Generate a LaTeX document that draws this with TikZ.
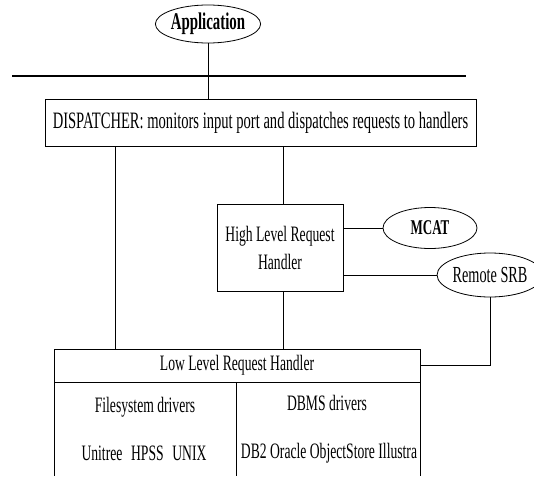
\documentclass[tikz,border=0pt]{standalone}
\usepackage{fontspec}
\setmainfont[FakeStretch=0.62]{Liberation Serif}
\usetikzlibrary{shapes.geometric}

\begin{document}
\begin{tikzpicture}[
        x=1pt, y=-1pt,
        every node/.style={inner sep=0pt, outer sep=0pt, font=\fontsize{22}{28}\selectfont},
        box/.style={draw, rectangle, line width=0.8pt, align=center},
        oval/.style={draw, ellipse, line width=0.8pt},
        wire/.style={line width=0.8pt},
        bus/.style={line width=1.6pt},
    ]
    \useasboundingbox[fill=white] (0,0) rectangle (534,476);

    \node[oval, minimum width=92pt, minimum height=38pt, font=\fontsize{24}{26}\selectfont\bfseries](app) at (208,24){Application};
    \coordinate (busL) at (12,76);
    \coordinate (busR) at (466,76);

    \node[box, minimum width=431pt, minimum height=47pt, font=\fontsize{23.5}{26}\selectfont](disp) at (260.5,122.5){DISPATCHER: monitors input port and dispatches requests to handlers};
    \node[box, minimum width=126pt, minimum height=87pt](high) at (280,247.5){High Level Request\\Handler};
    \node[oval, minimum width=94pt, minimum height=41pt, font=\fontsize{21}{23}\selectfont\bfseries](mcat) at (430,228){MCAT};
    \node[oval, minimum width=90pt, minimum height=44pt, font=\fontsize{23}{25}\selectfont](srb) at (490,275){Remote SRB};
    \node[box, minimum width=366pt, minimum height=33pt](low) at (237,365.5){Low Level Request Handler};

    \node[](fs) at (145,407){Filesystem drivers};
    \node[](fslist) at (144,453){Unitree\hspace{8.7pt}HPSS\hspace{8.7pt}UNIX};
    \node[](dbms) at (327,403){DBMS drivers};
    \node[](dblist) at (329,453){DB2 Oracle ObjectStore Illustra};

    \coordinate (tapL) at (115,146);
    \coordinate (tapH) at (283,146);
    \coordinate (split) at (236,382);
    \coordinate (bot) at (0,476);

    \draw[bus] (busL) -- (busR);
    \draw[wire] (app.south) -- (app.south |- disp.north);
    \draw[wire] (tapL) -- (tapL |- low.north);
    \draw[wire] (tapH) -- (tapH |- high.north);
    \draw[wire] (high.south -| tapH) -- (tapH |- low.north);
    \draw[wire] (high.east |- mcat.west) -- (mcat.west);
    \draw[wire] (high.east |- srb.west) -- (srb.west);
    \draw[wire] (srb.south) -- (srb.south |- low.east) -- (low.east);

    % open bottom of the driver box
    \draw[wire] (low.south west) -- (low.south west |- bot);
    \draw[wire] (low.south east) -- (low.south east |- bot);
    \draw[wire] (split) -- (split |- bot);
    \end{tikzpicture}
\end{document}
